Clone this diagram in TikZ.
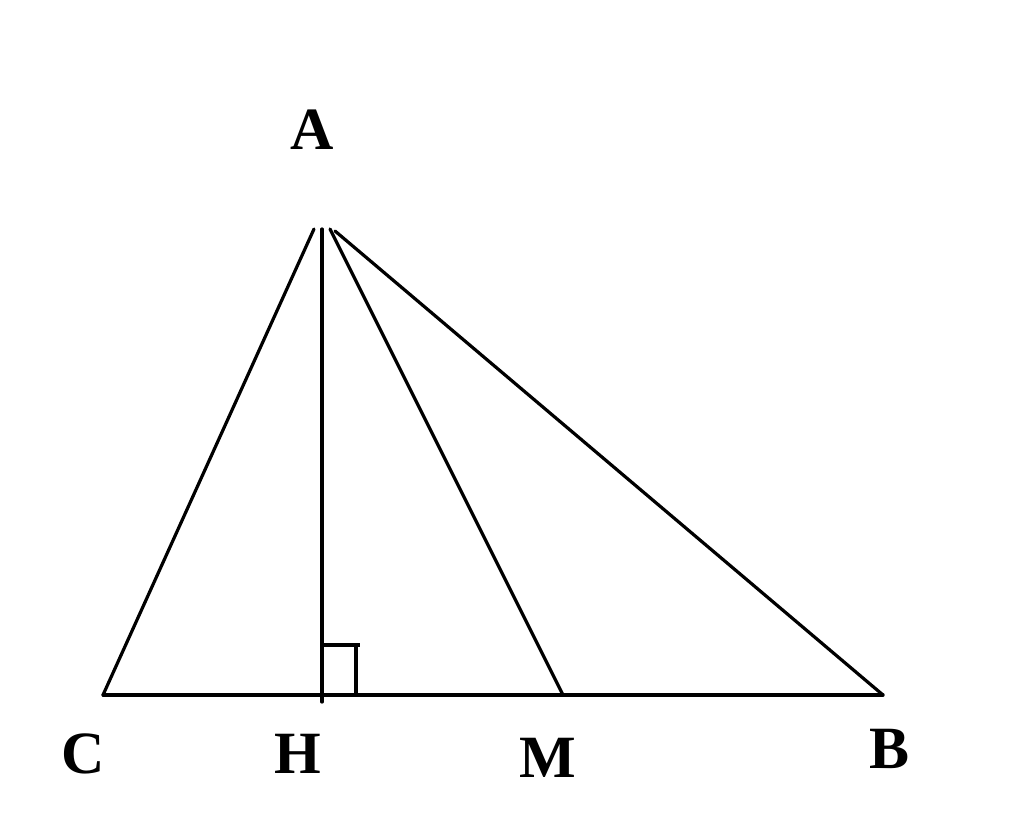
\documentclass[tikz,border=0pt]{standalone}
\usepackage{fontspec}
\setmainfont{Liberation Serif}
\begin{document}
\begin{tikzpicture}[x=1pt,y=-1pt,
  seg/.style={line width=3.2pt, line cap=round, line join=miter},
  lbl/.style={font=\fontsize{60}{60}\selectfont\bfseries, inner sep=0pt, anchor=center}]
\useasboundingbox (0,0) rectangle (1024,821);
\fill[white] (0,0) rectangle (1024,821);
\coordinate (A1) at (314,229);
\coordinate (A2) at (322,229);
\coordinate (A3) at (330,229);
\coordinate (A4) at (335,231);
\coordinate (C) at (103,695);
\coordinate (B) at (883,695);
\coordinate (H) at (322,695);
\coordinate (Hb) at (322,702);
\coordinate (M) at (563,695);
\coordinate (S1) at (322,645);
\coordinate (S2) at (356,645);
\coordinate (S3) at (356,695);
\coordinate (S4) at (360,645);
\draw[seg] (C) -- (B);
\draw[seg] (C) -- (A1);
\draw[seg] (Hb) -- (A2);
\draw[seg] (M) -- (A3);
\draw[seg] (B) -- (A4);
\draw[seg, line cap=butt] (S1) -- (S4);
\draw[seg, line cap=butt] (S2) -- (S3);
\node[lbl] (lA) at (312,130) {A};
\node[lbl] (lC) at (83,754) {C};
\node[lbl] (lH) at (298,754) {H};
\node[lbl] (lM) at (548,758) {M};
\node[lbl] (lB) at (889,749) {B};
\end{tikzpicture}
\end{document}
